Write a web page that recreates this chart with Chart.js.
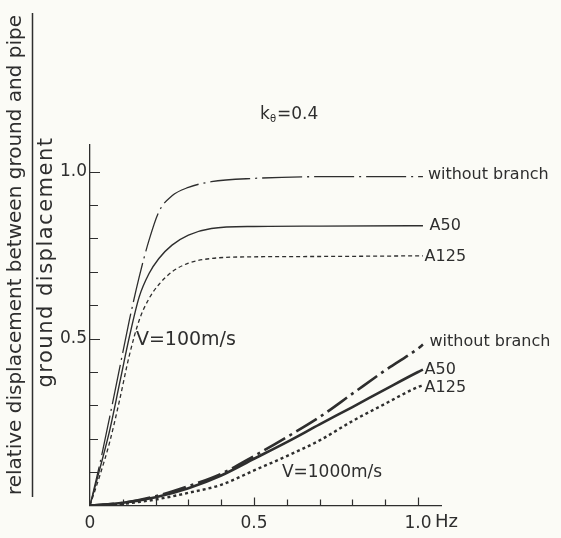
<!DOCTYPE html>
<html>
<head>
<meta charset="utf-8">
<script src="https://cdn.jsdelivr.net/npm/chart.js@4.4.1/dist/chart.umd.min.js"></script>
<style>
  html, body { margin: 0; padding: 0; background: #fbfbf6; }
  canvas { display: block; }
</style>
</head>
<body>
<canvas id="chart" width="561" height="538"></canvas>
<script>
// V = 100 m/s
const freq100 = [0, 0.03, 0.06, 0.09, 0.12, 0.15, 0.18, 0.21, 0.25, 0.30, 0.37, 0.50, 0.70, 1.015];
const v100NoBranch = [0, 0.125, 0.265, 0.41, 0.555, 0.685, 0.795, 0.88, 0.928, 0.953, 0.97, 0.98, 0.985, 0.985];
const v100A50 = [0, 0.11, 0.225, 0.365, 0.505, 0.625, 0.695, 0.74, 0.78, 0.81, 0.83, 0.836, 0.837, 0.838];
const v100A125 = [0, 0.09, 0.19, 0.315, 0.45, 0.555, 0.62, 0.662, 0.7, 0.726, 0.74, 0.745, 0.746, 0.748];

// V = 1000 m/s
const freq1000 = [0, 0.1, 0.2, 0.3, 0.4, 0.5, 0.6, 0.7, 0.8, 0.9, 1.0, 1.015];
const v1000NoBranch = [0, 0.008, 0.028, 0.058, 0.095, 0.148, 0.205, 0.265, 0.335, 0.405, 0.47, 0.482];
const v1000A50 = [0, 0.008, 0.025, 0.052, 0.09, 0.14, 0.19, 0.243, 0.295, 0.348, 0.40, 0.407];
const v1000A125 = [0, 0.005, 0.018, 0.038, 0.062, 0.105, 0.148, 0.195, 0.253, 0.305, 0.355, 0.36];

const yTickLabels = { '0.5': '0.5', '1': '1.0' };
const xTickLabels = { '0': '0', '0.5': '0.5', '1': '1.0' };

const INK = '#2e2e2e';

function pts(xs, ys) {
  return xs.map((x, i) => ({ x: x, y: ys[i] }));
}

function series(xs, ys, width, dash) {
  return {
    data: pts(xs, ys),
    borderColor: INK,
    borderWidth: width,
    borderDash: dash,
    pointRadius: 0,
    cubicInterpolationMode: 'monotone',
    fill: false
  };
}

function tickKey(v) {
  return String(Math.round(v * 10) / 10);
}

const extras = {
  id: 'extras',
  afterDraw(chart) {
    const { ctx, scales: { x, y } } = chart;
    ctx.save();
    ctx.strokeStyle = INK;
    ctx.fillStyle = INK;
    ctx.lineWidth = 1.2;

    // inward tick marks
    ctx.beginPath();
    y.ticks.forEach(t => {
      if (t.value <= 0) return;
      const py = Math.round(y.getPixelForValue(t.value)) + 0.5;
      const len = tickKey(t.value) in yTickLabels ? 10 : 8;
      ctx.moveTo(x.left, py);
      ctx.lineTo(x.left + len, py);
    });
    x.ticks.forEach(t => {
      if (t.value <= 0) return;
      const px = Math.round(x.getPixelForValue(t.value)) + 0.5;
      const len = tickKey(t.value) in xTickLabels ? 8 : 6;
      ctx.moveTo(px, y.bottom);
      ctx.lineTo(px, y.bottom - len);
    });
    ctx.stroke();

    // Hz after the last x label
    ctx.font = '18px "DejaVu Sans"';
    ctx.textBaseline = 'middle';
    ctx.textAlign = 'left';
    ctx.fillText('Hz', x.getPixelForValue(1.0) + 17, 522);

    // curve labels
    ctx.font = '16px "DejaVu Sans"';
    const lab = (t, vx, vy) => ctx.fillText(t, x.getPixelForValue(vx), y.getPixelForValue(vy));
    lab('without branch', 1.03, 0.991);
    lab('A50', 1.035, 0.838);
    lab('A125', 1.02, 0.745);
    lab('without branch', 1.035, 0.49);
    lab('A50', 1.02, 0.405);
    lab('A125', 1.02, 0.352);

    ctx.font = '19px "DejaVu Sans"';
    lab('V=100m/s', 0.14, 0.495);
    ctx.font = '17px "DejaVu Sans"';
    lab('V=1000m/s', 0.585, 0.10);

    // k_theta = 0.4
    ctx.font = '17px "DejaVu Sans"';
    ctx.fillText('k', 260, 115);
    ctx.font = '10px "DejaVu Sans"';
    ctx.fillText('θ', 270, 119);
    ctx.font = '17px "DejaVu Sans"';
    ctx.fillText('=0.4', 277, 115);

    // y axis title as a fraction
    ctx.textAlign = 'center';
    ctx.font = '20px "DejaVu Sans"';
    ctx.save();
    ctx.translate(16, 255);
    ctx.rotate(-Math.PI / 2);
    ctx.fillText('relative displacement between ground and pipe', 0, 0);
    ctx.restore();
    ctx.save();
    ctx.font = '21px "DejaVu Sans"';
    ctx.letterSpacing = '1.5px';
    ctx.translate(47, 262);
    ctx.rotate(-Math.PI / 2);
    ctx.fillText('ground displacement', 0, 0);
    ctx.restore();
    ctx.lineWidth = 1.5;
    ctx.beginPath();
    ctx.moveTo(32.5, 13);
    ctx.lineTo(32.5, 497);
    ctx.stroke();

    ctx.restore();
  }
};

new Chart(document.getElementById('chart'), {
  type: 'line',
  data: {
    datasets: [
      series(freq100, v100NoBranch, 1.3, [40, 5, 2, 5]),
      series(freq100, v100A50, 1.4, []),
      series(freq100, v100A125, 1.3, [4, 3]),
      series(freq1000, v1000NoBranch, 2.6, [24, 5, 3, 5]),
      series(freq1000, v1000A50, 2.6, []),
      series(freq1000, v1000A125, 2.4, [3, 3])
    ]
  },
  options: {
    responsive: false,
    animation: false,
    devicePixelRatio: 1,
    layout: { padding: { left: 0, top: 145, right: 120, bottom: 0 } },
    plugins: {
      legend: { display: false },
      tooltip: { enabled: false }
    },
    scales: {
      x: {
        type: 'linear',
        min: 0,
        max: 1.07,
        afterFit: s => { s.height = 32.5; },
        grid: { display: false, drawTicks: false },
        border: { display: true, color: INK, width: 1.3 },
        ticks: {
          stepSize: 0.1,
          includeBounds: false,
          autoSkip: false,
          maxRotation: 0,
          padding: 8,
          color: INK,
          font: { family: 'DejaVu Sans', size: 17 },
          callback: v => xTickLabels[tickKey(v)] || ''
        }
      },
      y: {
        type: 'linear',
        min: 0,
        max: 1.08,
        afterFit: s => { s.width = 90; },
        grid: { display: false, drawTicks: false },
        border: { display: true, color: INK, width: 1.3 },
        ticks: {
          stepSize: 0.1,
          includeBounds: false,
          autoSkip: false,
          padding: 3,
          color: INK,
          font: { family: 'DejaVu Sans', size: 17 },
          callback: v => yTickLabels[tickKey(v)] || ''
        }
      }
    }
  },
  plugins: [extras]
});
</script>
</body>
</html>
